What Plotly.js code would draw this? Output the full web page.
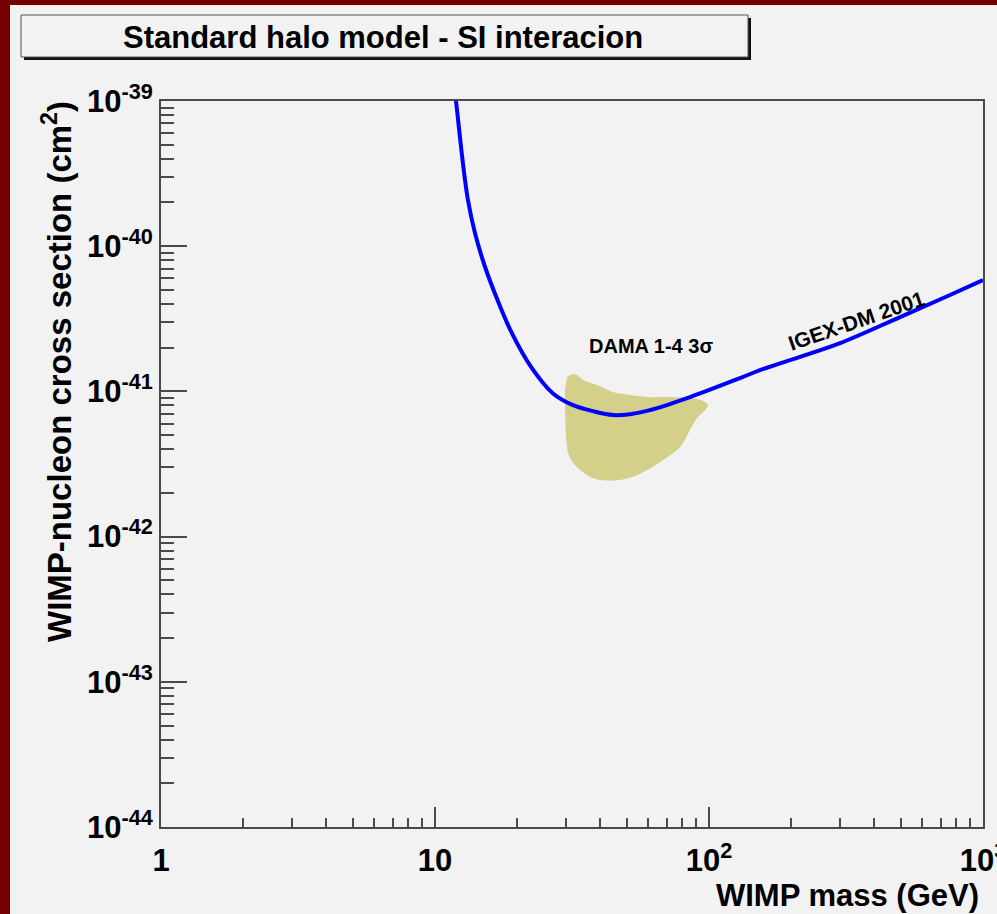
<!DOCTYPE html>
<html>
<head>
<meta charset="utf-8">
<script src="https://cdn.plot.ly/plotly-3.0.1.min.js"></script>
<style>
  html, body { margin: 0; padding: 0; background: #760000; width: 997px; height: 914px; overflow: hidden; }
  #plot { position: absolute; left: 10px; top: 5px; width: 987px; height: 909px; background: #f2f2f2; }
</style>
</head>
<body>
<div id="plot"></div>
<script>
// IGEX-DM 2001 exclusion limit (spin-independent, standard halo)
const igexMass  = [11.6, 11.93, 12.29, 12.69, 13.19, 14.0, 15.22, 16.91, 19.10, 22.41, 26.96, 31.89,
                   37.73, 44.64, 51.48, 60.9, 85.2, 129.8, 153.5, 197.5, 300.8, 498, 758, 1000];
const igexSigma = [1.5e-39, 1.0e-39, 5.99e-40, 3.53e-40, 2.08e-40, 1.226e-40, 7.22e-41, 4.26e-41, 2.51e-41,
                   1.477e-41, 9.68e-42, 8.04e-42, 7.31e-42, 6.87e-42, 6.97e-42, 7.43e-42, 9.13e-42,
                   1.235e-41, 1.401e-41, 1.642e-41, 2.15e-41, 3.25e-41, 4.61e-41, 5.84e-41];

// DAMA 1-4 allowed region (3 sigma contour)
const damaMass  = [30.3, 31.6, 33.0, 34.7, 39.0, 44.6, 51.5, 60.9, 73.9, 87.4, 96.7, 99.2, 96.7, 90.4,
                   85.2, 78.4, 67.9, 59.4, 54.6, 47.3, 40.0, 35.9, 31.9, 30.6, 30.1, 29.8, 29.8];
const damaSigma = [1.254e-41, 1.315e-41, 1.295e-41, 1.196e-41, 1.105e-41, 9.89e-42, 9.43e-42, 9.13e-42,
                   9.13e-42, 8.99e-42, 8.44e-42, 8.04e-42, 7.43e-42, 6.55e-42, 5.41e-42, 4.13e-42,
                   3.36e-42, 2.87e-42, 2.65e-42, 2.45e-42, 2.45e-42, 2.65e-42, 3.21e-42, 3.76e-42,
                   4.84e-42, 8.04e-42, 1.02e-41];

// Axis ticks
const xTickVals = [1, 10, 100, 1000];
const xTickText = ['1', '10', '10<sup>2</sup>', '10<sup>3</sup>'];
const yTickVals = [1e-44, 1e-43, 1e-42, 1e-41, 1e-40, 1e-39];
const yTickText = ['10<sup>-44</sup>', '10<sup>-43</sup>', '10<sup>-42</sup>', '10<sup>-41</sup>',
                   '10<sup>-40</sup>', '10<sup>-39</sup>'];

function minorLogTicks(lo, hi) {
  const out = [];
  for (let d = lo; d < hi; d++) {
    for (let k = 2; k <= 9; k++) out.push(k * Math.pow(10, d));
  }
  return out;
}

const FONT = 'Liberation Sans, Arial, Helvetica, sans-serif';
const AXCOL = '#4a4a4a';

const traces = [
  {
    x: damaMass, y: damaSigma, type: 'scatter', mode: 'lines',
    fill: 'toself', fillcolor: '#d4d08a',
    line: { width: 0, color: '#d4d08a', shape: 'spline', smoothing: 0.8 },
    hoverinfo: 'skip', showlegend: false
  },
  {
    x: igexMass, y: igexSigma, type: 'scatter', mode: 'lines',
    line: { width: 4, color: '#0000ff', shape: 'spline', smoothing: 1 },
    showlegend: false
  }
];

// pixel -> paper helpers for the 822 x 726 plot frame
const px = v => (v - 161) / 822;
const py = v => (827 - v) / 726;

const layout = {
  width: 987, height: 909,
  margin: { l: 151, r: 14, t: 96, b: 87 },
  paper_bgcolor: '#f2f2f2',
  plot_bgcolor: '#f2f2f2',
  showlegend: false,
  xaxis: {
    type: 'log', range: [0, 3],
    tickmode: 'array', tickvals: xTickVals, ticktext: xTickText,
    ticks: 'inside', ticklen: 20, tickwidth: 2, tickcolor: AXCOL,
    minor: { tickmode: 'array', tickvals: minorLogTicks(0, 3), ticks: 'inside', ticklen: 9, tickwidth: 2, tickcolor: AXCOL },
    showline: true, linecolor: AXCOL, linewidth: 2, mirror: true,
    showgrid: false, zeroline: false, ticklabelstandoff: 5, ticklabeloverflow: 'allow',
    tickfont: { family: FONT, size: 31, color: '#000', weight: 'bold' }
  },
  yaxis: {
    type: 'log', range: [-44, -39],
    tickmode: 'array', tickvals: yTickVals, ticktext: yTickText,
    ticks: 'inside', ticklen: 26, tickwidth: 2, tickcolor: AXCOL,
    minor: { tickmode: 'array', tickvals: minorLogTicks(-44, -39), ticks: 'inside', ticklen: 13, tickwidth: 2, tickcolor: AXCOL },
    showline: true, linecolor: AXCOL, linewidth: 2, mirror: true,
    showgrid: false, zeroline: false, ticklabeloverflow: 'allow',
    tickfont: { family: FONT, size: 31, color: '#000', weight: 'bold' }
  },
  shapes: [
    // title box shadow and box
    { type: 'rect', xref: 'paper', yref: 'paper', x0: px(24), x1: px(751), y0: py(60), y1: py(18),
      fillcolor: '#111', line: { width: 0 } },
    { type: 'rect', xref: 'paper', yref: 'paper', x0: px(21), x1: px(748), y0: py(57), y1: py(15),
      fillcolor: '#f2f2f2', line: { width: 1, color: '#555' } }
  ],
  annotations: [
    { text: '<b>Standard halo model - SI interacion</b>', xref: 'paper', yref: 'paper',
      x: px(383), y: py(37), xanchor: 'center', yanchor: 'middle', showarrow: false,
      font: { family: FONT, size: 31, color: '#000' } },
    { text: '<b>WIMP mass (GeV)</b>', xref: 'paper', yref: 'paper',
      x: px(981), y: py(895), xanchor: 'right', yanchor: 'middle', showarrow: false,
      font: { family: FONT, size: 31, color: '#000' } },
    { text: '<b>WIMP-nucleon cross section (cm<sup>2</sup>)</b>', xref: 'paper', yref: 'paper',
      x: px(57), y: py(372), xanchor: 'center', yanchor: 'middle', textangle: -90, showarrow: false,
      font: { family: FONT, size: 33, color: '#000' } },
    { text: '<b>DAMA 1-4 3σ</b>', xref: 'x', yref: 'y',
      x: 1.788, y: -40.688, xanchor: 'center', yanchor: 'middle', showarrow: false,
      font: { family: FONT, size: 20, color: '#000' } },
    { text: '<b>IGEX-DM 2001</b>', xref: 'x', yref: 'y',
      x: 2.540, y: -40.509, xanchor: 'center', yanchor: 'middle', textangle: -19, showarrow: false,
      font: { family: FONT, size: 21, color: '#000' } }
  ]
};

Plotly.newPlot('plot', traces, layout, { displayModeBar: false, staticPlot: true });
</script>
</body>
</html>
